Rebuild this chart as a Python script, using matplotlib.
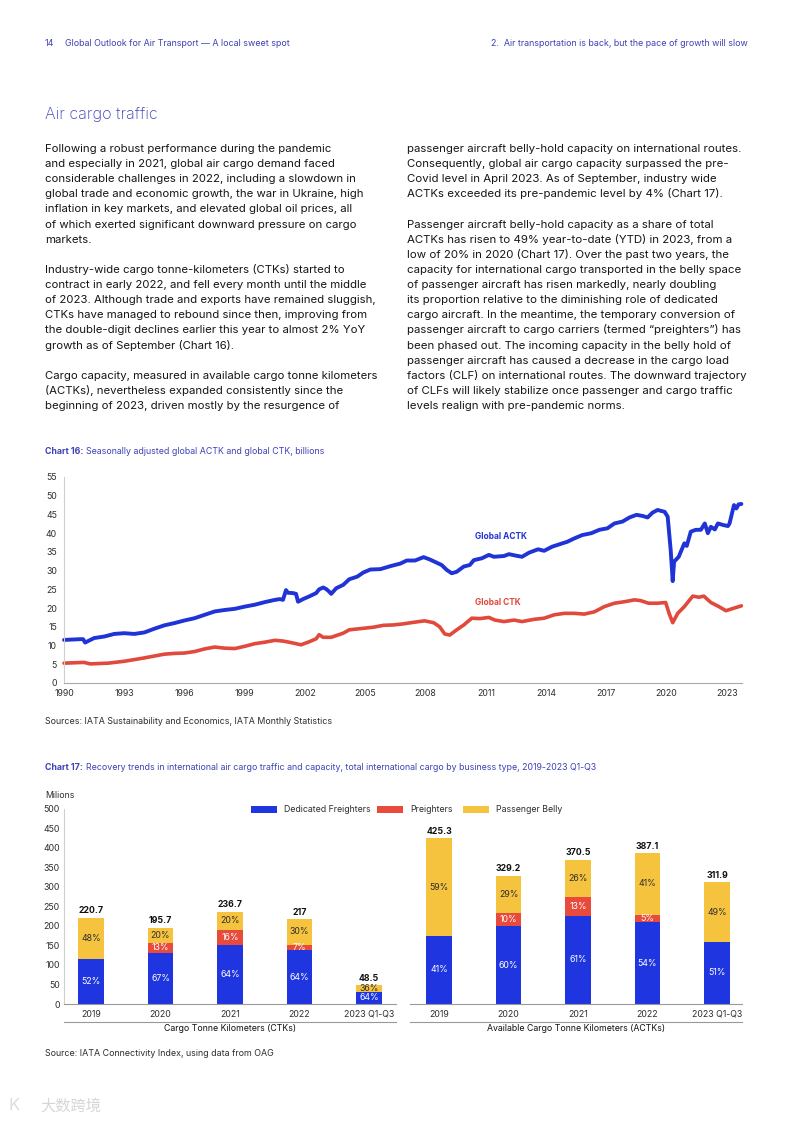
import numpy as np
import matplotlib
matplotlib.use("Agg")
import matplotlib.pyplot as plt
from matplotlib.patches import Rectangle
from matplotlib.text import Annotation

# ---- Chart 16 data (billions) ----
actk_years = [1990.0, 1990.8, 1990.95, 1991.05, 1991.5, 1992.0, 1992.5, 1993.0, 1993.5, 1994.0,
              1994.5, 1995.0, 1995.5, 1996.0, 1996.5, 1997.0, 1997.5, 1998.0, 1998.5, 1999.0,
              1999.5, 2000.0, 2000.5, 2000.75, 2000.9, 2001.05, 2001.15, 2001.4, 2001.55, 2001.65,
              2001.9, 2002.2, 2002.55, 2002.7, 2002.9, 2003.05, 2003.2, 2003.3, 2003.55, 2003.9,
              2004.2, 2004.6, 2004.9, 2005.25, 2005.75, 2006.25, 2006.75, 2007.06, 2007.47, 2007.9,
              2008.2, 2008.56, 2008.8, 2009.05, 2009.3, 2009.55, 2009.9, 2010.2, 2010.4, 2010.8,
              2011.15, 2011.4, 2011.9, 2012.15, 2012.5, 2012.8, 2013.15, 2013.6, 2013.9, 2014.3,
              2014.7, 2015.05, 2015.4, 2015.8, 2016.25, 2016.65, 2017.05, 2017.4, 2017.8, 2018.15,
              2018.5, 2018.8, 2019.05, 2019.3, 2019.55, 2019.9, 2020.05, 2020.2, 2020.3, 2020.37,
              2020.6, 2020.88, 2021.0, 2021.2, 2021.45, 2021.7, 2021.9, 2022.05, 2022.2, 2022.4,
              2022.55, 2022.8, 2023.05, 2023.13, 2023.35, 2023.47, 2023.58, 2023.72]
actk_vals = [11.5, 11.7, 11.7, 10.8, 12.0, 12.4, 13.1, 13.3, 13.1, 13.5,
             14.5, 15.4, 16.0, 16.7, 17.3, 18.2, 19.1, 19.5, 19.8, 20.4,
             20.9, 21.6, 22.2, 22.4, 22.2, 24.8, 24.1, 24.0, 23.8, 21.7,
             22.4, 23.1, 24.0, 25.0, 25.5, 25.1, 24.4, 23.8, 25.3, 26.2,
             27.7, 28.4, 29.5, 30.3, 30.4, 31.2, 31.9, 32.7, 32.7, 33.6,
             33.0, 32.1, 31.5, 30.2, 29.3, 29.7, 31.1, 31.5, 32.8, 33.3,
             34.2, 33.7, 33.9, 34.4, 34.0, 33.7, 34.8, 35.7, 35.3, 36.4,
             37.1, 37.7, 38.6, 39.5, 40.0, 40.9, 41.3, 42.6, 43.1, 44.2,
             44.9, 44.6, 44.2, 45.5, 46.2, 45.7, 44.4, 35.5, 27.2, 32.4,
             33.7, 37.3, 36.6, 40.4, 40.9, 40.9, 42.6, 40.0, 41.7, 41.0,
             42.6, 42.2, 41.9, 42.6, 47.5, 46.6, 47.7, 47.8]

ctk_years = [1990.0, 1991.0, 1991.3, 1992.2, 1993.0, 1994.0, 1995.0, 1995.5, 1996.0, 1996.5,
             1997.0, 1997.5, 1998.0, 1998.5, 1999.0, 1999.5, 2000.0, 2000.5, 2000.9, 2001.2,
             2001.55, 2001.8, 2002.2, 2002.55, 2002.7, 2002.9, 2003.3, 2003.9, 2004.2, 2004.9,
             2005.4, 2005.9, 2006.4, 2006.9, 2007.4, 2007.95, 2008.4, 2008.7, 2008.95, 2009.2,
             2009.55, 2009.9, 2010.3, 2010.7, 2011.15, 2011.45, 2011.9, 2012.4, 2012.8, 2013.4,
             2013.9, 2014.4, 2014.9, 2015.4, 2015.9, 2016.4, 2016.9, 2017.4, 2017.9, 2018.4,
             2018.7, 2019.1, 2019.55, 2019.95, 2020.12, 2020.3, 2020.55, 2020.88, 2021.3, 2021.6,
             2021.85, 2022.2, 2022.6, 2022.95, 2023.3, 2023.72]
ctk_vals = [5.3, 5.5, 5.1, 5.3, 5.8, 6.7, 7.7, 7.9, 8.0, 8.4,
            9.1, 9.6, 9.3, 9.2, 9.8, 10.5, 10.9, 11.4, 11.2, 10.9,
            10.5, 10.2, 11.0, 11.8, 12.9, 12.2, 12.2, 13.3, 14.2, 14.6,
            14.9, 15.4, 15.5, 15.8, 16.2, 16.6, 16.1, 15.0, 13.1, 12.8,
            14.2, 15.5, 17.3, 17.2, 17.5, 16.8, 16.4, 16.8, 16.4, 17.0,
            17.3, 18.2, 18.6, 18.6, 18.4, 19.0, 20.4, 21.3, 21.7, 22.2,
            22.0, 21.3, 21.3, 21.5, 18.6, 16.1, 18.6, 20.4, 23.2, 22.9,
            23.2, 21.5, 20.4, 19.3, 19.9, 20.6]

# ---- Chart 17 data (millions) ----
categories = ['2019', '2020', '2021', '2022', '2023 Q1-Q3']
ctk_total = [220.7, 195.7, 236.7, 217, 48.5]
ctk_freighter = [52, 67, 64, 64, 64]
ctk_preighter = [0, 13, 16, 7, 0]
ctk_belly = [48, 20, 20, 30, 36]
actk_total = [425.3, 329.2, 370.5, 387.1, 311.9]
actk_freighter = [41, 60, 61, 54, 51]
actk_preighter = [0, 10, 13, 5, 0]
actk_belly = [59, 29, 26, 41, 49]

left_text = [
    "Following a robust performance during the pandemic",
    "and especially in 2021, global air cargo demand faced",
    "considerable challenges in 2022, including a slowdown in",
    "global trade and economic growth, the war in Ukraine, high",
    "inflation in key markets, and elevated global oil prices, all",
    "of which exerted significant downward pressure on cargo",
    "markets.",
    "",
    "Industry-wide cargo tonne-kilometers (CTKs) started to",
    "contract in early 2022, and fell every month until the middle",
    "of 2023. Although trade and exports have remained sluggish,",
    "CTKs have managed to rebound since then, improving from",
    "the double-digit declines earlier this year to almost 2% YoY",
    "growth as of September (Chart 16).",
    "",
    "Cargo capacity, measured in available cargo tonne kilometers",
    "(ACTKs), nevertheless expanded consistently since the",
    "beginning of 2023, driven mostly by the resurgence of",
]
right_text = [
    "passenger aircraft belly-hold capacity on international routes.",
    "Consequently, global air cargo capacity surpassed the pre-",
    "Covid level in April 2023. As of September, industry wide",
    "ACTKs exceeded its pre-pandemic level by 4% (Chart 17).",
    "",
    "Passenger aircraft belly-hold capacity as a share of total",
    "ACTKs has risen to 49% year-to-date (YTD) in 2023, from a",
    "low of 20% in 2020 (Chart 17). Over the past two years, the",
    "capacity for international cargo transported in the belly space",
    "of passenger aircraft has risen markedly, nearly doubling",
    "its proportion relative to the diminishing role of dedicated",
    "cargo aircraft. In the meantime, the temporary conversion of",
    "passenger aircraft to cargo carriers (termed \u201cpreighters\u201d) has",
    "been phased out. The incoming capacity in the belly hold of",
    "passenger aircraft has caused a decrease in the cargo load",
    "factors (CLF) on international routes. The downward trajectory",
    "of CLFs will likely stabilize once passenger and cargo traffic",
    "levels realign with pre-pandemic norms.",
]

HEAD = '#3d42b5'
TEXT = '#161616'
GREY = '#2e2e2e'
BLUE = '#1f33d6'
RED = '#e0493b'
BAR_BLUE = '#1f35e0'
BAR_RED = '#e84a3c'
BAR_YEL = '#f6c33f'

plt.rcParams['font.family'] = ['Inter', 'DejaVu Sans']

W, H = 793, 1122


def fx(px):
    return px / W


def fy(py):
    return 1 - py / H


fig = plt.figure(figsize=(W / 100, H / 100), dpi=100)

# page header
fig.text(fx(45), fy(43), '14', fontsize=6.4, color=HEAD, va='center')
fig.text(fx(65), fy(43), 'Global Outlook for Air Transport \u2014 A local sweet spot',
         fontsize=6.4, color=HEAD, va='center')
fig.text(fx(748), fy(43), '2.  Air transportation is back, but the pace of growth will slow',
         fontsize=6.4, color=HEAD, va='center', ha='right')

fig.text(fx(45), fy(115), 'Air cargo traffic', fontsize=11.6, color=HEAD,
         va='center', fontweight='light')

for i, line in enumerate(left_text):
    if line:
        fig.text(fx(45), fy(152 + i * 15.12), line, fontsize=8.2, color=TEXT, va='baseline')
for i, line in enumerate(right_text):
    if line:
        fig.text(fx(407), fy(152 + i * 15.12), line, fontsize=8.25, color=TEXT, va='baseline')


def chart_title(y, bold, rest):
    t = fig.text(fx(45), fy(y), bold, fontsize=6.35, fontweight='bold', color=HEAD, va='center')
    ann = Annotation(rest, xy=(1, 0), xycoords=t, xytext=(2, 0), textcoords='offset points',
                     fontsize=6.35, color=HEAD, va='bottom', ha='left')
    fig.add_artist(ann)


chart_title(451, 'Chart 16:', 'Seasonally adjusted global ACTK and global CTK, billions')
chart_title(768, 'Chart 17:', 'Recovery trends in international air cargo traffic and capacity, '
            'total international cargo by business type, 2019-2023 Q1-Q3')

# ---- Chart 16 ----
ax1 = fig.add_axes([fx(64), fy(683), (742 - 64) / W, (683 - 477) / H])
ax1.plot(actk_years, actk_vals, color=BLUE, lw=2.8, solid_joinstyle='round',
         solid_capstyle='round', clip_on=False)
ax1.plot(ctk_years, ctk_vals, color=RED, lw=2.6, solid_joinstyle='round',
         solid_capstyle='round', clip_on=False)
ax1.set_xlim(1990, 2023.75)
ax1.set_ylim(0, 55)
ax1.set_yticks(range(0, 56, 5))
ax1.set_xticks(range(1990, 2024, 3))
ax1.tick_params(length=0, labelsize=6.3, labelcolor=GREY)
ax1.tick_params(axis='y', pad=5)
ax1.tick_params(axis='x', pad=4)
for s in ['top', 'right']:
    ax1.spines[s].set_visible(False)
ax1.spines['left'].set_color('#d0d0d0')
ax1.spines['bottom'].set_color('#aaaaaa')
ax1.spines['left'].set_linewidth(0.8)
ax1.spines['bottom'].set_linewidth(0.8)
ax1.text(2011.73, 39.0, 'Global ACTK', color=BLUE, fontsize=6, fontweight='bold',
         ha='center', va='center')
ax1.text(2011.6, 21.5, 'Global CTK', color=RED, fontsize=6, fontweight='bold',
         ha='center', va='center')

fig.text(fx(45), fy(722), 'Sources: IATA Sustainability and Economics, IATA Monthly Statistics',
         fontsize=6.4, color=GREY, va='center')

# ---- Chart 17 ----
def stacked(ax, total, fr, pr, be, xlim, caption):
    x = np.arange(len(categories))
    total = np.array(total, dtype=float)
    parts = np.array([fr, pr, be], dtype=float)
    parts = parts / parts.sum(axis=0) * total
    colors = [BAR_BLUE, BAR_RED, BAR_YEL]
    pcts = [fr, pr, be]
    bottom = np.zeros(len(x))
    for k in range(3):
        ax.bar(x, parts[k], 0.37, bottom=bottom, color=colors[k], linewidth=0)
        for i in range(len(x)):
            if pcts[k][i] > 0:
                ax.text(x[i], bottom[i] + parts[k][i] / 2, f'{pcts[k][i]}%',
                        ha='center', va='center', fontsize=6.3,
                        color=GREY if k == 2 else 'white')
        bottom = bottom + parts[k]
    for i in range(len(x)):
        ax.annotate(f'{total[i]:g}', (x[i], total[i]), xytext=(0, 5),
                    textcoords='offset points', ha='center', va='center',
                    fontsize=6.3, fontweight='bold', color='#111111')
    ax.set_xlim(*xlim)
    ax.set_ylim(0, 500)
    ax.set_xticks(x)
    ax.set_xticklabels(categories)
    ax.tick_params(length=0, labelsize=6.3, labelcolor=GREY)
    ax.tick_params(axis='x', pad=4)
    for s in ['top', 'right']:
        ax.spines[s].set_visible(False)
    ax.spines['bottom'].set_color('#999999')
    ax.spines['bottom'].set_linewidth(0.8)
    ax.plot([0, 1], [-0.092, -0.092], transform=ax.transAxes, color='#999999',
            lw=0.8, clip_on=False)
    ax.text(0.5, -0.128, caption, transform=ax.transAxes, ha='center', va='center',
            fontsize=6.3, color='#111111')


ax2 = fig.add_axes([fx(64), fy(1004), (396 - 64) / W, (1004 - 809) / H])
stacked(ax2, ctk_total, ctk_freighter, ctk_preighter, ctk_belly, (-0.39, 4.39),
        'Cargo Tonne Kilometers (CTKs)')
ax2.set_yticks(range(0, 501, 50))
ax2.tick_params(axis='y', pad=3)
ax2.spines['left'].set_color('#d0d0d0')
ax2.spines['left'].set_linewidth(0.8)

ax3 = fig.add_axes([fx(410), fy(1004), (742 - 410) / W, (1004 - 809) / H])
stacked(ax3, actk_total, actk_freighter, actk_preighter, actk_belly, (-0.42, 4.36),
        'Available Cargo Tonne Kilometers (ACTKs)')
ax3.set_yticks([])
ax3.spines['left'].set_visible(False)

fig.text(fx(45), fy(795), 'Milions', fontsize=6.3, color=GREY, va='center')

# legend
for px, col, lab in [(251, BAR_BLUE, 'Dedicated Freighters'),
                     (377, BAR_RED, 'Preighters'),
                     (463, BAR_YEL, 'Passenger Belly')]:
    fig.add_artist(Rectangle((fx(px), fy(812.5)), 26 / W, 7 / H, color=col,
                             transform=fig.transFigure, lw=0))
    fig.text(fx(px + 33), fy(809), lab, fontsize=6.3, color=GREY, va='center')

fig.text(fx(45), fy(1054), 'Source: IATA Connectivity Index, using data from OAG',
         fontsize=6.4, color=GREY, va='center')

# watermark
fig.text(fx(8), fy(1106), 'K', fontsize=12, color='#dddddd', va='center')
fig.text(fx(40), fy(1106), '大数跨境', fontsize=11, color='#d6d6d6', va='center',
         family=['Noto Sans CJK SC', 'DejaVu Sans'])

fig.savefig('out.png', dpi=100)
